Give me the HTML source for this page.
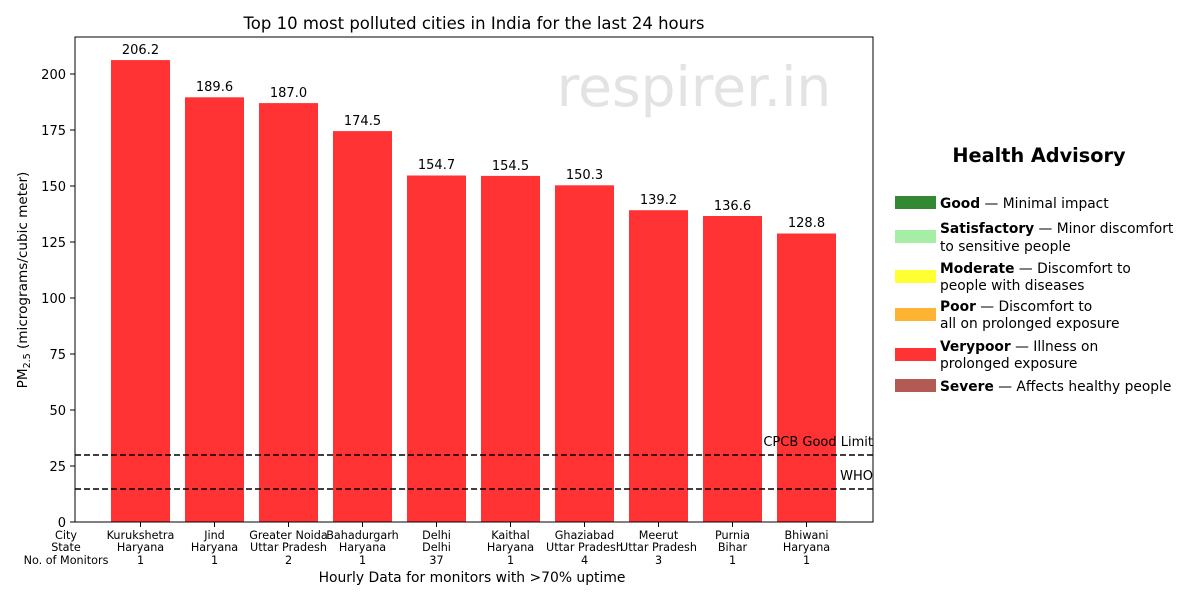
<!DOCTYPE html>
<html><head><meta charset="utf-8"><style>body{margin:0;background:#fff}svg{display:block}text{font-family:"DejaVu Sans","Liberation Sans",sans-serif}</style></head><body>
<svg width="1200" height="600" viewBox="0 0 1200 600" xmlns="http://www.w3.org/2000/svg">
<rect width="1200" height="600" fill="#fff"/>
<text x="474" y="29" font-size="16.5" text-anchor="middle">Top 10 most polluted cities in India for the last 24 hours</text>
<text x="694" y="106" font-size="55" fill="#e3e3e3" text-anchor="middle">respirer.in</text>
<g fill="#ff3333">
<rect x="111" y="60.1" width="59" height="461.9"/>
<rect x="185" y="97.3" width="59" height="424.7"/>
<rect x="259" y="103.1" width="59" height="418.9"/>
<rect x="333" y="131.1" width="59" height="390.9"/>
<rect x="407" y="175.5" width="59" height="346.5"/>
<rect x="481" y="175.9" width="59" height="346.1"/>
<rect x="555" y="185.3" width="59" height="336.7"/>
<rect x="629" y="210.2" width="59" height="311.8"/>
<rect x="703" y="216.0" width="59" height="306.0"/>
<rect x="777" y="233.5" width="59" height="288.5"/>
</g>
<g font-size="13" text-anchor="middle">
<text x="140.5" y="54">206.2</text><text x="214.5" y="91">189.6</text><text x="288.5" y="97">187.0</text><text x="362.5" y="125">174.5</text><text x="436.5" y="169">154.7</text><text x="510.5" y="170">154.5</text><text x="584.5" y="179">150.3</text><text x="658.5" y="204">139.2</text><text x="732.5" y="210">136.6</text><text x="806.5" y="227">128.8</text>
</g>
<line x1="75" y1="455" x2="873" y2="455" stroke="#000" stroke-width="1.6" stroke-dasharray="6,3"/>
<line x1="75" y1="489" x2="873" y2="489" stroke="#000" stroke-width="1.6" stroke-dasharray="6,3"/>
<text x="873" y="446" font-size="13" text-anchor="end">CPCB Good Limit</text>
<text x="873" y="480" font-size="13" text-anchor="end">WHO</text>
<rect x="75" y="37" width="798" height="485" fill="none" stroke="#000" stroke-width="1"/>
<g font-size="13" text-anchor="end">
<text x="66" y="527">0</text><text x="66" y="471">25</text><text x="66" y="415">50</text><text x="66" y="359">75</text><text x="66" y="303">100</text><text x="66" y="247">125</text><text x="66" y="191">150</text><text x="66" y="135">175</text><text x="66" y="79">200</text>
</g>
<g stroke="#000"><line x1="70" y1="522" x2="75" y2="522"/><line x1="70" y1="466" x2="75" y2="466"/><line x1="70" y1="410" x2="75" y2="410"/><line x1="70" y1="354" x2="75" y2="354"/><line x1="70" y1="298" x2="75" y2="298"/><line x1="70" y1="242" x2="75" y2="242"/><line x1="70" y1="186" x2="75" y2="186"/><line x1="70" y1="130" x2="75" y2="130"/><line x1="70" y1="74" x2="75" y2="74"/>
<line x1="140.5" y1="522" x2="140.5" y2="527"/><line x1="214.5" y1="522" x2="214.5" y2="527"/><line x1="288.5" y1="522" x2="288.5" y2="527"/><line x1="362.5" y1="522" x2="362.5" y2="527"/><line x1="436.5" y1="522" x2="436.5" y2="527"/><line x1="510.5" y1="522" x2="510.5" y2="527"/><line x1="584.5" y1="522" x2="584.5" y2="527"/><line x1="658.5" y1="522" x2="658.5" y2="527"/><line x1="732.5" y1="522" x2="732.5" y2="527"/><line x1="806.5" y1="522" x2="806.5" y2="527"/></g>
<text transform="translate(27,280) rotate(-90)" font-size="13.6" text-anchor="middle">PM<tspan font-size="9.5" dy="3">2.5</tspan><tspan dy="-3"> (micrograms/cubic meter)</tspan></text>
<g font-size="11.2" text-anchor="middle">
<text x="66" y="539">City</text><text x="66" y="551">State</text><text x="66" y="564">No. of Monitors</text>
<text x="140.5" y="539">Kurukshetra</text><text x="140.5" y="551">Haryana</text><text x="140.5" y="564">1</text>
<text x="214.5" y="539">Jind</text><text x="214.5" y="551">Haryana</text><text x="214.5" y="564">1</text>
<text x="288.5" y="539">Greater Noida</text><text x="288.5" y="551">Uttar Pradesh</text><text x="288.5" y="564">2</text>
<text x="362.5" y="539">Bahadurgarh</text><text x="362.5" y="551">Haryana</text><text x="362.5" y="564">1</text>
<text x="436.5" y="539">Delhi</text><text x="436.5" y="551">Delhi</text><text x="436.5" y="564">37</text>
<text x="510.5" y="539">Kaithal</text><text x="510.5" y="551">Haryana</text><text x="510.5" y="564">1</text>
<text x="584.5" y="539">Ghaziabad</text><text x="584.5" y="551">Uttar Pradesh</text><text x="584.5" y="564">4</text>
<text x="658.5" y="539">Meerut</text><text x="658.5" y="551">Uttar Pradesh</text><text x="658.5" y="564">3</text>
<text x="732.5" y="539">Purnia</text><text x="732.5" y="551">Bihar</text><text x="732.5" y="564">1</text>
<text x="806.5" y="539">Bhiwani</text><text x="806.5" y="551">Haryana</text><text x="806.5" y="564">1</text>
</g>
<text x="472" y="582" font-size="13.9" text-anchor="middle">Hourly Data for monitors with &gt;70% uptime</text>
<text x="1039" y="162" font-size="19.3" font-weight="bold" text-anchor="middle">Health Advisory</text>
<rect x="895" y="196" width="41" height="13" fill="#338833"/>
<rect x="895" y="230" width="41" height="13" fill="#a6eea6"/>
<rect x="895" y="270" width="41" height="13" fill="#ffff33"/>
<rect x="895" y="308" width="41" height="13" fill="#ffb333"/>
<rect x="895" y="348" width="41" height="13" fill="#ff3333"/>
<rect x="895" y="379" width="41" height="13" fill="#b35a55"/>
<g font-size="13.8">
<text x="940" y="208"><tspan font-weight="bold">Good</tspan>  — Minimal impact</text>
<text x="940" y="233"><tspan font-weight="bold">Satisfactory</tspan> — Minor discomfort</text><text x="940" y="251">to sensitive people</text>
<text x="940" y="273"><tspan font-weight="bold">Moderate</tspan> — Discomfort to</text><text x="940" y="290">people with diseases</text>
<text x="940" y="311"><tspan font-weight="bold">Poor</tspan> — Discomfort to</text><text x="940" y="328">all on prolonged exposure</text>
<text x="940" y="351"><tspan font-weight="bold">Verypoor</tspan> — Illness on</text><text x="940" y="368">prolonged exposure</text>
<text x="940" y="391"><tspan font-weight="bold">Severe</tspan> — Affects healthy people</text>
</g>
</svg>
</body></html>
